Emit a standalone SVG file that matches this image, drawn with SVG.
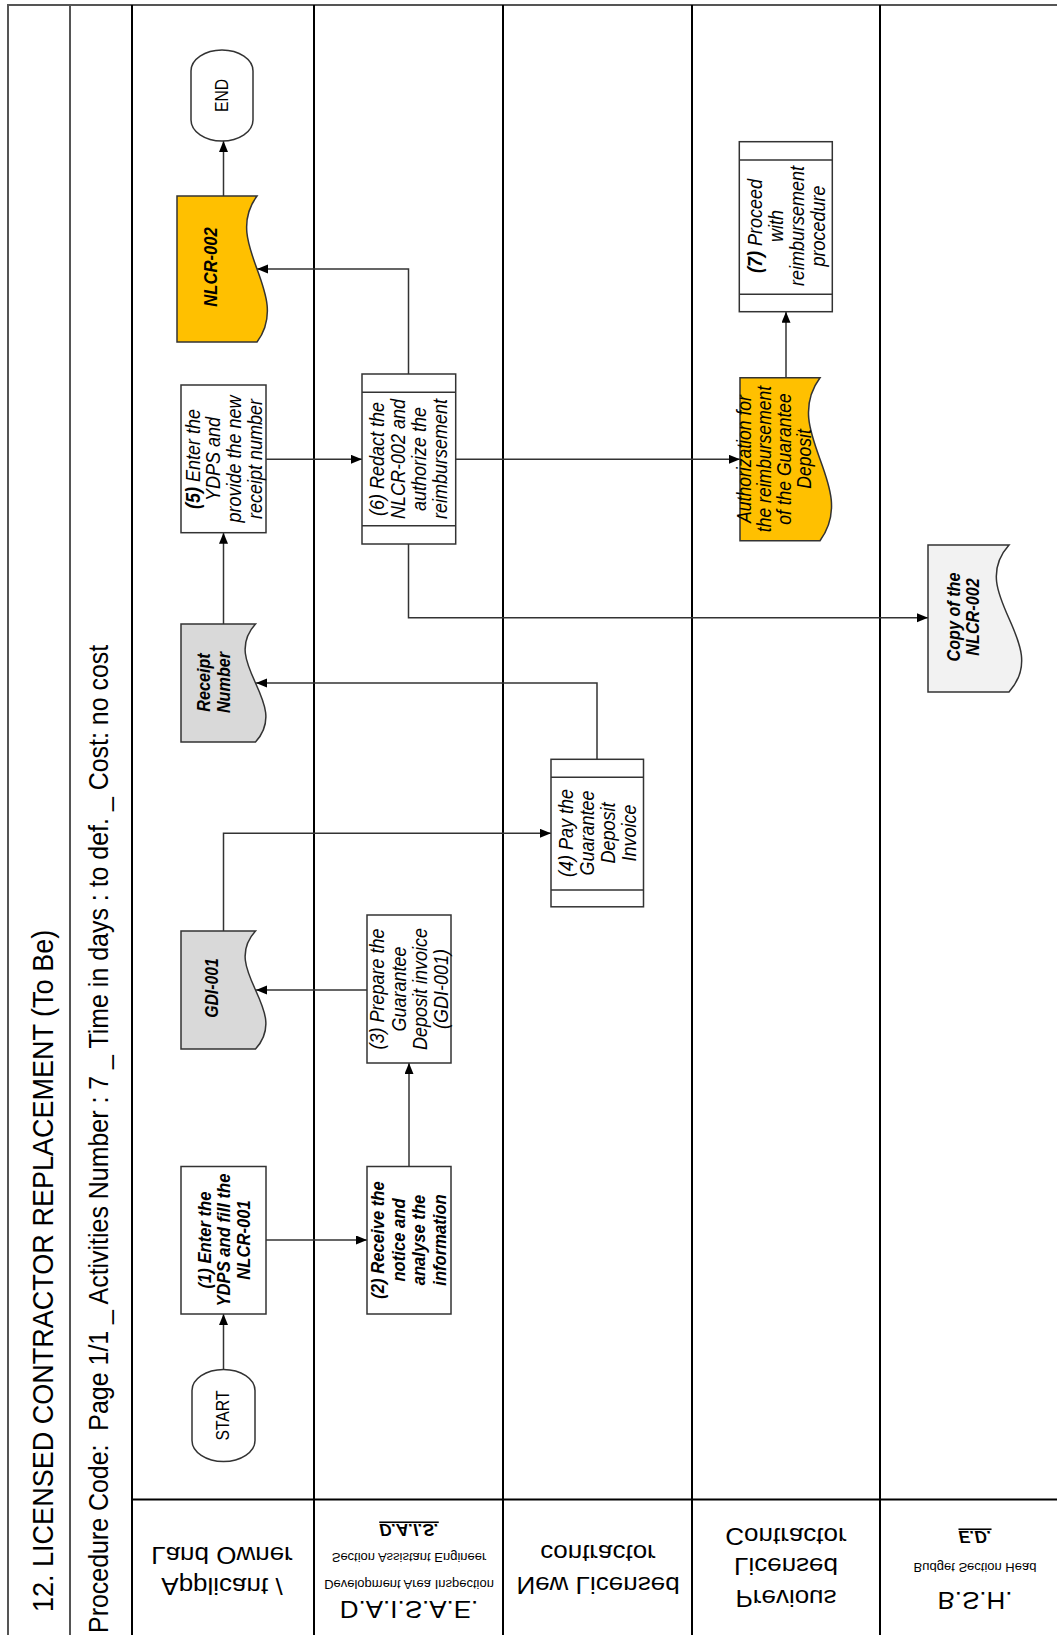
<svg xmlns="http://www.w3.org/2000/svg" width="1057" height="1635" viewBox="0 0 1057 1635">
<defs>
<marker id="arr" markerUnits="userSpaceOnUse" markerWidth="12" markerHeight="10" refX="11" refY="4.5" orient="auto"><path d="M0,0 L11,4.5 L0,9 Z" fill="#000"/></marker>
<style>
.t{font-family:"Liberation Sans",Arial,sans-serif;fill:#000}
.i{font-style:italic}
.bd{font-weight:bold}
.box{fill:#fff;stroke:#333;stroke-width:1.5}
.inner{stroke:#333;stroke-width:1.5}
.lane{stroke:#000;stroke-width:2;fill:none}
.frame{stroke:#555;stroke-width:2;fill:none}
.conn path{fill:none;stroke:#333;stroke-width:1.5;marker-end:url(#arr)}
.lbl{text-anchor:middle}
.mid{text-anchor:middle}
.ydoc{fill:#FFC000;stroke:#333;stroke-width:1.5}
.gdoc{fill:#D9D9D9;stroke:#333;stroke-width:1.5}
.ldoc{fill:#F2F2F2;stroke:#333;stroke-width:1.5}
</style>
</defs>
<rect x="0" y="0" width="1057" height="1635" fill="#fff"/>

<g id="frame">
<path class="frame" d="M8,1635 V5 H1057 M70,5 V1635"/>
<path class="lane" d="M132,5 V1635 M314,5 V1635 M503,5 V1635 M692,5 V1635 M880,5 V1635 M132,1499.5 H1057"/>
<text class="t" font-size="30" transform="translate(53,1612) rotate(-90) scale(0.9,1)" textLength="758" lengthAdjust="spacingAndGlyphs">12. LICENSED CONTRACTOR REPLACEMENT (To Be)</text>
<text class="t" font-size="28" xml:space="preserve" transform="translate(108,1633) rotate(-90) scale(0.9,1)" textLength="1098" lengthAdjust="spacingAndGlyphs">Procedure Code:  Page 1/1 _ Activities Number : 7 _ Time in days : to def. _ Cost: no cost</text>
</g>

<g id="lane-labels">
<g id="lane1">
<text class="t lbl" font-size="26" transform="translate(222,1547) scale(1,-0.93)">Land Owner</text>
<text class="t lbl" font-size="26" transform="translate(222,1578) scale(1,-0.93)">Applicant /</text>
</g>
<g id="lane2">
<text class="t lbl i bd" font-size="17" text-decoration="underline" transform="translate(409,1524) scale(1,-0.93)">D.A.I.S.</text>
<text class="t lbl" font-size="13" transform="translate(409,1553) scale(1,-0.93)">Section Assistant Engineer</text>
<text class="t lbl" font-size="13" transform="translate(409,1580) scale(1,-0.93)">Development Area Inspection</text>
<text class="t lbl" font-size="26" transform="translate(409,1601) scale(1,-0.93)">D.A.I.S.A.E.</text>
</g>
<g id="lane3">
<text class="t lbl" font-size="26" transform="translate(598,1545) scale(1,-0.93)">contractor</text>
<text class="t lbl" font-size="26" transform="translate(598,1577) scale(1,-0.93)">New Licensed</text>
</g>
<g id="lane4">
<text class="t lbl" font-size="26" transform="translate(786,1528) scale(1,-0.93)">Contractor</text>
<text class="t lbl" font-size="26" transform="translate(786,1558) scale(1,-0.93)">Licensed</text>
<text class="t lbl" font-size="26" transform="translate(786,1590) scale(1,-0.93)">Previous</text>
</g>
<g id="lane5">
<text class="t lbl i bd" font-size="17" text-decoration="underline" transform="translate(975,1531) scale(1,-0.93)">E.D.</text>
<text class="t lbl" font-size="13" transform="translate(975,1563) scale(1,-0.93)">Budget Section Head</text>
<text class="t lbl" font-size="26" transform="translate(975,1592) scale(1,-0.93)">B.S.H.</text>
</g>
</g>

<g id="connectors" class="conn">
<path d="M223.5,1369.5 V1314"/>
<path d="M266,1240 H367"/>
<path d="M409,1166.5 V1063"/>
<path d="M367,990 H256"/>
<path d="M223.5,931 V833.3 H551"/>
<path d="M597,759.3 V683 H256"/>
<path d="M223.5,624 V532.7"/>
<path d="M266,459.3 H362"/>
<path d="M408.5,374 V269 H257"/>
<path d="M223.5,196 V141"/>
<path d="M455.7,459.3 H740"/>
<path d="M786,377.7 V311.7"/>
<path d="M408.5,544 V617.7 H928"/>
</g>

<g id="start">
<rect class="box" x="192" y="1369.5" width="63" height="92" rx="31.5" ry="21"/>
<text class="t mid" font-size="17.5" transform="translate(223,1415.5) rotate(-90) scale(0.9,1)" y="6.3">START</text>
</g>

<g id="n1">
<rect class="box" x="181" y="1166.5" width="85" height="147.5"/>
<text class="t mid i bd" font-size="18.5" transform="translate(223.5,1240) rotate(-90) scale(0.9,1)"><tspan x="0" y="-12.9">(1) Enter the</tspan><tspan x="0" y="6.6">YDPS and fill the</tspan><tspan x="0" y="26.1">NLCR-001</tspan></text>
</g>

<g id="n2">
<rect class="box" x="367" y="1166.5" width="84" height="147.5"/>
<text class="t mid i bd" font-size="18.5" transform="translate(408.5,1240) rotate(-90) scale(0.9,1)"><tspan x="0" y="-24.4">(2) Receive the</tspan><tspan x="0" y="-3.7">notice and</tspan><tspan x="0" y="17">analyse the</tspan><tspan x="0" y="37.7">information</tspan></text>
</g>

<g id="n3">
<rect class="box" x="367" y="915" width="84" height="148"/>
<text class="t mid i" font-size="20" transform="translate(409,989) rotate(-90) scale(0.9,1)"><tspan x="0" y="-25">(3) Prepare the</tspan><tspan x="0" y="-3.5">Guarantee</tspan><tspan x="0" y="18">Deposit invoice</tspan><tspan x="0" y="39.5">(GDI-001)</tspan></text>
</g>

<g id="gdi001">
<path class="gdoc" d="M181,931 H255.5 C219.5,970.3 291.5,1009.7 255.5,1049 H181 Z"/>
<text class="t mid i bd" font-size="17.5" transform="translate(212,988) rotate(-90) scale(0.9,1)" y="6.3">GDI-001</text>
</g>

<g id="n4">
<rect class="box" x="551" y="759.3" width="92.5" height="147.5"/>
<path class="inner" d="M551,777.3 H643.5 M551,890 H643.5"/>
<text class="t mid i" font-size="20" transform="translate(597,833) rotate(-90) scale(0.9,1)"><tspan x="0" y="-24.3">(4) Pay the</tspan><tspan x="0" y="-3.3">Guarantee</tspan><tspan x="0" y="17.7">Deposit</tspan><tspan x="0" y="38.7">Invoice</tspan></text>
</g>

<g id="receipt">
<path class="gdoc" d="M181,624 H255.5 C219.5,663.3 291.5,702.7 255.5,742 H181 Z"/>
<text class="t mid i bd" font-size="18" transform="translate(213.5,682.5) rotate(-90) scale(0.9,1)"><tspan x="0" y="-3.3">Receipt</tspan><tspan x="0" y="16.2">Number</tspan></text>
</g>

<g id="n5">
<rect class="box" x="181" y="385" width="85" height="147.7"/>
<text class="t mid i" font-size="20" transform="translate(223.5,459) rotate(-90) scale(0.9,1)"><tspan x="0" y="-23.9"><tspan font-weight="bold">(5)</tspan> Enter the</tspan><tspan x="0" y="-3.2">YDPS and</tspan><tspan x="0" y="17.5">provide the new</tspan><tspan x="0" y="38.2">receipt number</tspan></text>
</g>

<g id="n6">
<rect class="box" x="362" y="374" width="93.7" height="170"/>
<path class="inner" d="M362,392.3 H455.7 M362,525.7 H455.7"/>
<text class="t mid i" font-size="20" transform="translate(408.5,459) rotate(-90) scale(0.9,1)"><tspan x="0" y="-24.3">(6) Redact the</tspan><tspan x="0" y="-3.3">NLCR-002 and</tspan><tspan x="0" y="17.7">authorize the</tspan><tspan x="0" y="38.7">reimbursement</tspan></text>
</g>

<g id="nlcr002">
<path class="ydoc" d="M177,196 H257 C221,244.7 293,293.3 257,342 H177 Z"/>
<text class="t mid i bd" font-size="18.5" transform="translate(210.5,267) rotate(-90) scale(0.9,1)" y="6.6">NLCR-002</text>
</g>

<g id="end">
<rect class="box" x="191" y="50" width="62" height="91" rx="31" ry="21"/>
<text class="t mid" font-size="17.5" transform="translate(222,95.5) rotate(-90) scale(0.9,1)" y="6.3">END</text>
</g>

<g id="auth">
<path class="ydoc" d="M740,377.7 H820 C780,432 860,486.3 820,540.7 H740 Z"/>
<text class="t mid i" font-size="19.5" transform="translate(774,459) rotate(-90) scale(0.9,1)"><tspan x="0" y="-23.5">Authorization for</tspan><tspan x="0" y="-3.2">the reimbursement</tspan><tspan x="0" y="17.1">of the Guarantee</tspan><tspan x="0" y="37.4">Deposit</tspan></text>
</g>

<g id="n7">
<rect class="box" x="739.3" y="141.7" width="93" height="170"/>
<path class="inner" d="M739.3,160 H832.3 M739.3,294.3 H832.3"/>
<text class="t mid i" font-size="20" transform="translate(786,226) rotate(-90) scale(0.9,1)"><tspan x="0" y="-24.3"><tspan font-weight="bold">(7)</tspan> Proceed</tspan><tspan x="0" y="-3.3">with</tspan><tspan x="0" y="17.7">reimbursement</tspan><tspan x="0" y="38.7">procedure</tspan></text>
</g>

<g id="copy">
<path class="ldoc" d="M928,545 H1009 C965,594 1053,643 1009,692 H928 Z"/>
<text class="t mid i bd" font-size="18" transform="translate(963,617) rotate(-90) scale(0.9,1)"><tspan x="0" y="-3.1">Copy of the</tspan><tspan x="0" y="15.9">NLCR-002</tspan></text>
</g>
</svg>
